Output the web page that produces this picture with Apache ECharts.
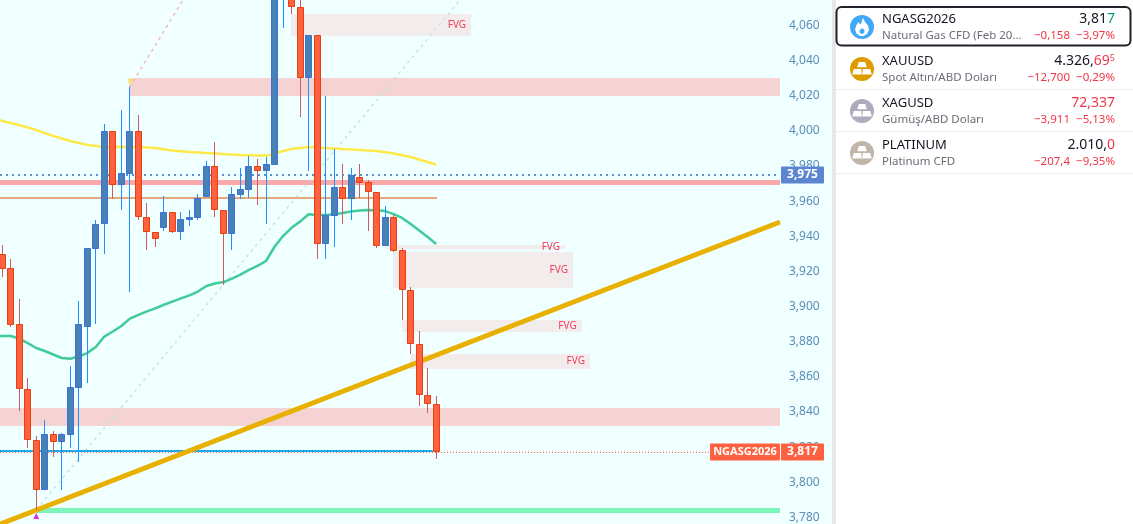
<!DOCTYPE html>
<html><head><meta charset="utf-8">
<style>html,body{margin:0;padding:0;background:#f0ffff;overflow:hidden}#c{width:1133px;height:524px}</style>
<script src="https://cdn.jsdelivr.net/npm/echarts@6/dist/echarts.min.js"></script>
</head><body><div id="c"></div>
<script>
const FONT = '"Noto Sans", sans-serif';
const opens = [3929.1,3921.1,3889.1,3852.1,3823.1,3795,3826.5,3822.3,3826.3,3853,3887.7,3932.1,3946,3998.9,3968.5,3974.8,3998.9,3950,3941.8,3943.9,3952.8,3941.8,3948.6,3949.8,3961.7,3979,3953.9,3940.6,3962.8,3965.7,3979,3976.5,3979.9,4079,4088,4069.4,4029.4,4053.5,3934.9,3950.9,3967,3960.5,3972.7,3969.9,3964.5,3933.8,3950,3931.2,3908.8,3878,3849,3843.9];
const closes = [3920.7,3888.8,3852.1,3823.1,3795,3826.5,3822.3,3826.5,3853.2,3889.1,3932.3,3946,3998.9,3968.2,3975,3998.9,3950,3941.8,3937.8,3952.8,3941.8,3948.8,3950,3960.8,3979,3953.9,3940.3,3963,3965.9,3979,3976.5,3980.1,4086,4090,4069.4,4029.4,4053.5,3934.9,3951.1,3967,3960.5,3973.9,3969.6,3964.5,3933.8,3950,3931,3908.8,3878,3849,3843.9,3816.2];
const highs = [3934.2,3926.2,3903.3,3858.5,3825.5,3834.5,3828.4,3827.2,3865.4,3902.2,3932.3,3948.4,4003,3998.9,4011,4023.9,4008.2,3957.9,3941.8,3962.1,3952.8,3953,3954.1,3963.2,3981.8,3992.8,3953.9,3967.2,3978,3984.8,3983.1,3984.1,4086,4092,4092,4075,4053.5,4053.5,4019,3988.8,3980.3,3978,3980.3,3971.2,3964.5,3956.4,3951.3,3932.3,3910.1,3885.1,3864.2,3848.3];
const lows = [3916,3887.5,3839.9,3818.9,3783.2,3795,3813.6,3794.8,3818.7,3810.7,3855.7,3889.2,3929.1,3960.4,3954.1,3907.5,3948.4,3931.4,3933.1,3942.2,3941,3937,3945,3948.4,3961.7,3950.1,3911.6,3931.4,3960.4,3960.9,3957,3946.1,3979.9,4057.7,4065.6,4007.2,3976.3,3926.2,3926.2,3933.2,3946.1,3948.4,3960.9,3942.2,3932.5,3933.8,3930.2,3891.5,3872.2,3842.8,3838.6,3812.4];

const greenMa = [3882.4,3882.4,3881,3878.4,3875.6,3873.9,3871.9,3869.9,3869.5,3870.8,3872.7,3876.2,3882.1,3885,3888.1,3892.3,3894.4,3896.4,3898.1,3900.2,3902,3903.8,3905.5,3907.7,3910.9,3912.3,3913.1,3915.1,3917.3,3920,3922.3,3925.1,3933.2,3939.3,3944,3947.5,3951.7,3951.3,3951.3,3951.7,3952.4,3953.3,3953.8,3954.1,3954,3953.5,3951.8,3949.6,3946.1,3942.4,3938.8,3934.8];
const yellowIdx = [-0.26,0,2,4,6,8,10,12,14,16,18,20,22,24,26,28,30,31,32,33,34,35,36,38,40,42,44,46,48,50,51];
const yellowMa = [4005.3,4004.8,4002.5,3999.6,3996.2,3993.4,3991.1,3990,3990.1,3990,3989.4,3988,3987.1,3986.5,3986,3985.4,3985.1,3985.1,3986,3987.7,3988.8,3989.4,3990,3989.4,3988.8,3988.3,3987.7,3986.3,3984.3,3981.4,3980];

const yTicks = [3780,3800,3820,3840,3860,3880,3900,3920,3940,3960,3980,4000,4020,4040,4060];
const Y_MIN = 3775.45, Y_MAX = 4073.6, X_MIN = -0.2585, X_MAX = 91.398;

const bandStart = [14.93, X_MIN, X_MIN, 4.03];
const bandEnd = [X_MAX, X_MAX, X_MAX, X_MAX];
const bandHigh = [4029.2, 3841.5, 3971, 3784.4];
const bandLow = [4019, 3831.4, 3968.3, 3781.9];
const bandColor = ['#f5d3d3', '#f5d3d3', '#f9a9a9', '#7df5bb'];

const fvgStart = [33.95, 45, 45.92, 46.98, 47.92];
const fvgEnd = [55.1, 66.14, 67.07, 68.1, 69.07];
const fvgHigh = [4065.6, 3934.2, 3930.2, 3891.5, 3872.2];
const fvgLow = [4053.3, 3931.9, 3909.7, 3884.9, 3863.6];

const trendLine = [[X_MIN, 3775.4], [X_MAX, 3947.3]];
const redDash = [[14.96, 4023.9], [21.25, 4073.6]];
const tealDash = [[3.98, 3783.4], [53.8, 4073.6]];
const orangeLine = [[X_MIN, 3960.9], [51.1, 3960.9]];
const blueLine = [[X_MIN, 3817], [50.6, 3817]];
const dottedBlue = [[X_MIN, 3974], [X_MAX, 3974]];
const dottedRed = [[X_MIN, 3816.2], [83.2, 3816.2]];
const peakMark = [15, 4026.9];
const lowMark = [4, 3780];

const rows = [
  {name:'NGASG2026', sub:'Natural Gas CFD (Feb 20\u2026', price:'3,81', tail:'7', sup:'', tailColor:'#089981', priceColor:'#131722', chg:'\u22120,158', pct:'\u22123,97%', icon:'#3fa9f5', kind:'flame'},
  {name:'XAUUSD', sub:'Spot Alt\u0131n/ABD Dolar\u0131', price:'4.326,', tail:'69', sup:'5', tailColor:'#f23645', priceColor:'#131722', chg:'\u221212,700', pct:'\u22120,29%', icon:'#dc9b00', kind:'bars'},
  {name:'XAGUSD', sub:'G\u00fcm\u00fc\u015f/ABD Dolar\u0131', price:'', tail:'72,337', sup:'', tailColor:'#f23645', priceColor:'#f23645', chg:'\u22123,911', pct:'\u22125,13%', icon:'#aeabbb', kind:'bars'},
  {name:'PLATINUM', sub:'Platinum CFD', price:'2.010,', tail:'0', sup:'', tailColor:'#f23645', priceColor:'#131722', chg:'\u2212207,4', pct:'\u22129,35%', icon:'#bfb5a8', kind:'bars'}
];
const PRICE_NOW = 3817, PRICE_MARK = 3975;

const chart = echarts.init(document.getElementById('c'), null, {renderer:'canvas'});

const candleData = opens.map((o, i) => [i, o, closes[i], lows[i], highs[i]]);
const bandData = bandStart.map((s, i) => [s, bandEnd[i], bandHigh[i], bandLow[i], i]);
const fvgData = fvgStart.map((s, i) => [s, fvgEnd[i], fvgHigh[i], fvgLow[i]]);

function line(data, color, width, type, z, opacity) {
  return {type:'line', data, symbol:'none', silent:true, animation:false, z,
    lineStyle:{color, width, type:type||'solid', opacity:opacity==null?1:opacity, cap:'butt'}};
}

const option = {
  animation:false,
  backgroundColor:'#f0ffff',
  grid:{left:0, top:0, width:780, height:524, containLabel:false},
  xAxis:{type:'value', min:X_MIN, max:X_MAX, show:false},
  yAxis:{type:'value', position:'right', min:Y_MIN, max:Y_MAX, scale:true,
    axisLine:{show:false}, axisTick:{show:false}, splitLine:{show:false},
    axisLabel:{customValues:yTicks, margin:9,
      rich:{t:{color:'#5b8db8', fontSize:12, fontFamily:FONT, padding:[3,0,0,0]}},
      formatter:v => '{t|'+String(Math.round(v)).replace(/(\d)(\d{3})$/, '$1,$2')+'}'}},
  series:[
    {type:'custom', z:1, silent:true, clip:true, animation:false, data:bandData,
     encode:{x:[0,1], y:[2,3]},
     renderItem(p, api){
       const a = api.coord([api.value(0), api.value(2)]), b = api.coord([api.value(1), api.value(3)]);
       return {type:'rect', shape:{x:a[0], y:Math.round(a[1]), width:b[0]-a[0], height:Math.round(b[1])-Math.round(a[1])},
               style:{fill:bandColor[api.value(4)]}};
     }},
    {type:'custom', z:1, silent:true, clip:true, animation:false, data:fvgData,
     encode:{x:[0,1], y:[2,3]},
     renderItem(p, api){
       const a = api.coord([api.value(0), api.value(2)]), b = api.coord([api.value(1), api.value(3)]);
       const top = Math.round(a[1]), bot = Math.round(b[1]);
       return {type:'group', children:[
         {type:'rect', shape:{x:a[0], y:top, width:b[0]-a[0], height:bot-top}, style:{fill:'#f2ecec'}},
         {type:'text', z2:5, style:{text:'FVG', x:b[0]-5, y:(top+bot)/2, align:'right', verticalAlign:'middle', fill:'#f0405e', font:'10px '+FONT}}
       ]};
     }},
    line(tealDash, '#c0e5d8', 1.3, [3,4], 2),
    line(redDash, '#f3b0b0', 1.3, [3,4], 2),
    line(orangeLine, '#e6a878', 2, 'solid', 3),
    line(dottedBlue, '#5b8fd6', 2, [2,4], 3),
    line(dottedRed, '#f0543a', 1, [1,2], 3),
    line(blueLine, '#1ea8e8', 2, 'solid', 3),
    line(yellowIdx.map((x,i)=>[x,yellowMa[i]]), '#fde94a', 2.5, 'solid', 3),
    line(greenMa.map((v,i)=>[i===0?X_MIN:i,v]), '#40cc98', 2.5, 'solid', 3),
    line(trendLine, '#e8b000', 5, 'solid', 4),
    {type:'custom', z:6, clip:true, silent:true, animation:false, data:candleData,
     encode:{x:0, y:[1,2,3,4]},
     renderItem(p, api){
       const o=api.value(1), c=api.value(2), l=api.value(3), h=api.value(4);
       const x=api.coord([api.value(0), o])[0], col=Math.floor(x);
       const up=c>=o;
       const yH=Math.round(api.coord([0,h])[1]), yL=Math.round(api.coord([0,l])[1]);
       const yT=Math.round(api.coord([0,Math.max(o,c)])[1]), yB=Math.round(api.coord([0,Math.min(o,c)])[1]);
       return {type:'group', children:[
         {type:'rect', shape:{x:col, y:yH, width:1, height:yL-yH}, style:{fill:up?'#1e90ff':'#cd5c5c'}},
         {type:'rect', shape:{x:col-2.5, y:yT+0.5, width:6, height:Math.max(yB-yT-1,1)},
          style:{fill:up?'#4682b4':'#ff6040', stroke:up?'#3f6fd8':'#e8400c', lineWidth:1}}
       ]};
     }},
    {type:'scatter', z:7, silent:true, animation:false, symbol:'triangle', symbolSize:[6,6], symbolRotate:180, data:[peakMark], itemStyle:{color:'#f6e84a'}},
    {type:'scatter', z:7, silent:true, animation:false, symbol:'triangle', symbolSize:[6,6], data:[lowMark], itemStyle:{color:'#d400d4'}}
  ]
};
chart.setOption(option);

const FLAME = [[1,-9],[3,-5],[6,-1.5],[7,3],[5,7],[1.5,9],[-2,9],[-5.5,6.5],[-7,2.5],[-5.5,-2],[-3.5,-5],[-2,-2.5],[-0.5,-4],[0,-6.5]];
const FLAME_HOLE = [[0.5,1],[2.5,3.5],[2.2,6],[0,7],[-2.2,6],[-2.6,3.5]];
const BARS = [
  [[-3.2,-7],[3.2,-7],[4.8,-1.7],[-4.8,-1.7]],
  [[-8.2,0],[-0.8,0],[-0.2,5.5],[-9.8,5.5]],
  [[0.8,0],[8.2,0],[9.8,5.5],[0.2,5.5]]
];
const place = (pts, cx, cy) => pts.map(p => [cx+p[0], cy+p[1]]);
const gfx = [
  {type:'rect', z:1, shape:{x:832, y:0, width:4, height:524}, style:{fill:'#e8e8ea'}, silent:true},
  {type:'rect', z:1, shape:{x:836, y:0, width:297, height:524}, style:{fill:'#ffffff'}, silent:true}
];
rows.forEach((r, i) => {
  const top = 6 + i*42, nameY = 19 + i*42, subY = 35.5 + i*42, cy = 27 + i*42;
  gfx.push({type:'circle', z:3, shape:{cx:862, cy, r:12}, style:{fill:r.icon}, silent:true});
  if (r.kind==='flame') {
    gfx.push({type:'polygon', z:4, silent:true, shape:{points:place(FLAME,862,cy)}, style:{fill:'#ffffff'}});
    gfx.push({type:'polygon', z:4, silent:true, shape:{points:place(FLAME_HOLE,862,cy)}, style:{fill:r.icon}});
  } else {
    BARS.forEach(b => gfx.push({type:'polygon', z:4, silent:true, shape:{points:place(b,862,cy)}, style:{fill:'#ffffff'}}));
  }
  gfx.push({type:'text', z:4, style:{text:r.name, x:882, y:nameY, verticalAlign:'middle', fill:'#131722', font:'13px '+FONT}});
  gfx.push({type:'text', z:4, style:{text:r.sub, x:882, y:subY, verticalAlign:'middle', fill:'#6a6d78', font:'11.5px '+FONT}});
  gfx.push({type:'text', z:4, style:{
    text:(r.price?'{p|'+r.price+'}':'')+'{t|'+r.tail+'}'+(r.sup?'{s|'+r.sup+'}':''),
    x:1115, y:nameY, align:'right', verticalAlign:'middle',
    rich:{p:{fill:r.priceColor, font:'14px '+FONT}, t:{fill:r.tailColor, font:'14px '+FONT}, s:{fill:r.tailColor, font:'9px '+FONT, verticalAlign:'top', padding:[0,0,6,0]}}
  }});
  gfx.push({type:'text', z:4, style:{text:r.chg, x:1070, y:subY, align:'right', verticalAlign:'middle', fill:'#f23645', font:'11.5px '+FONT}});
  gfx.push({type:'text', z:4, style:{text:r.pct, x:1115, y:subY, align:'right', verticalAlign:'middle', fill:'#f23645', font:'11.5px '+FONT}});
  if (i>0) gfx.push({type:'rect', z:2, shape:{x:836, y:top+41, width:297, height:1}, style:{fill:'#eeeeee'}, silent:true});
});
gfx.push({type:'rect', z:5, silent:true, shape:{x:836.5, y:7, width:294, height:38.5, r:5}, style:{fill:'none', stroke:'#1f2229', lineWidth:2}});

const yNow = Math.round(chart.convertToPixel({yAxisIndex:0}, PRICE_NOW));
const yMark = Math.round(chart.convertToPixel({yAxisIndex:0}, PRICE_MARK)) + 2;
function tag(x, w, cy, fill, text, size){
  gfx.push({type:'rect', z:6, silent:true, shape:{x, y:cy-8.5, width:w, height:17, r:1}, style:{fill}});
  gfx.push({type:'text', z:7, silent:true, style:{text, x:x+w/2, y:cy, align:'center', verticalAlign:'middle', fill:'#ffffff', font:'bold '+size+'px '+FONT}});
}
tag(710, 70, yNow+1, '#ff6040', 'NGASG2026', 11);
tag(781, 43, yNow+1, '#ff6040', '3,817', 12);
tag(781, 43, yMark, '#5b86cf', '3,975', 12);
chart.setOption({graphic:{elements:gfx}});
</script></body></html>
